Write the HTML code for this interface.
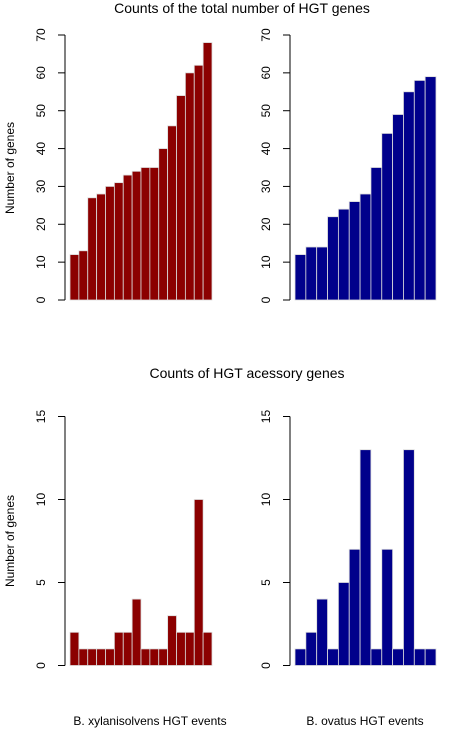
<!DOCTYPE html>
<html><head><meta charset="utf-8"><style>
body{margin:0;background:#fff;}
svg{display:block;font-family:"Liberation Sans",sans-serif;}
</style></head><body>
<svg id="c" width="449" height="731">
<text x="242" y="13" font-size="14" text-anchor="middle">Counts of the total number of HGT genes</text>
<text x="247" y="378" font-size="14" text-anchor="middle">Counts of HGT acessory genes</text>
<text x="14" y="168" font-size="12" text-anchor="middle" transform="rotate(-90 14 168)">Number of genes</text>
<text x="14" y="541" font-size="12" text-anchor="middle" transform="rotate(-90 14 541)">Number of genes</text>
<text x="150" y="725" font-size="12" text-anchor="middle">B. xylanisolvens HGT events</text>
<text x="365" y="725" font-size="12" text-anchor="middle">B. ovatus HGT events</text>
</svg>
<script>
const totalXyl=[12,13,27,28,30,31,33,34,35,35,40,46,54,60,62,68];
const totalOva=[12,14,14,22,24,26,28,35,44,49,55,58,59];
const accXyl=[2,1,1,1,1,2,2,4,1,1,1,3,2,2,10,2];
const accOva=[1,2,4,1,5,7,13,1,7,1,13,1,1];
const ticksTop=[0,10,20,30,40,50,60,70];
const ticksBot=[0,5,10,15];
const svg=document.getElementById('c');
const NS='http://www.w3.org/2000/svg';
function mk(t,a){const e=document.createElementNS(NS,t);for(const k in a)e.setAttribute(k,a[k]);svg.appendChild(e);return e;}
function panel(name,vals,ticks,axX,x0,x1,y0,yTop,color){
  const max=ticks[ticks.length-1];
  const y=v=>y0-(v/max)*(y0-yTop);
  const ax=mk('line',{x1:axX,x2:axX,y1:y(0),y2:y(max),stroke:'#000'});
  
  
  ticks.forEach(t=>{
    const l=mk('line',{x1:axX-7,x2:axX,y1:y(t),y2:y(t),stroke:'#000'});
    
    
    const tx=mk('text',{x:axX-20,y:y(t),'font-size':12,'text-anchor':'middle',transform:`rotate(-90 ${axX-20} ${y(t)})`});
    
    
    tx.textContent=t;
  });
  const w=(x1-x0)/vals.length;
  vals.forEach((v,i)=>{
    const r=mk('rect',{x:x0+i*w,y:y(v),width:w,height:y(0)-y(v),fill:color,stroke:'#ddd','stroke-width':0.8});
    
    
  });
}
panel('total-xyl',totalXyl,ticksTop,65,70,212,300,35,'#8B0000');
panel('total-ova',totalOva,ticksTop,290,295,436,300,35,'#00008B');
panel('acc-xyl',accXyl,ticksBot,65,70,212,665.5,416.5,'#8B0000');
panel('acc-ova',accOva,ticksBot,290,295,436,665.5,416.5,'#00008B');
</script>
</body></html>
